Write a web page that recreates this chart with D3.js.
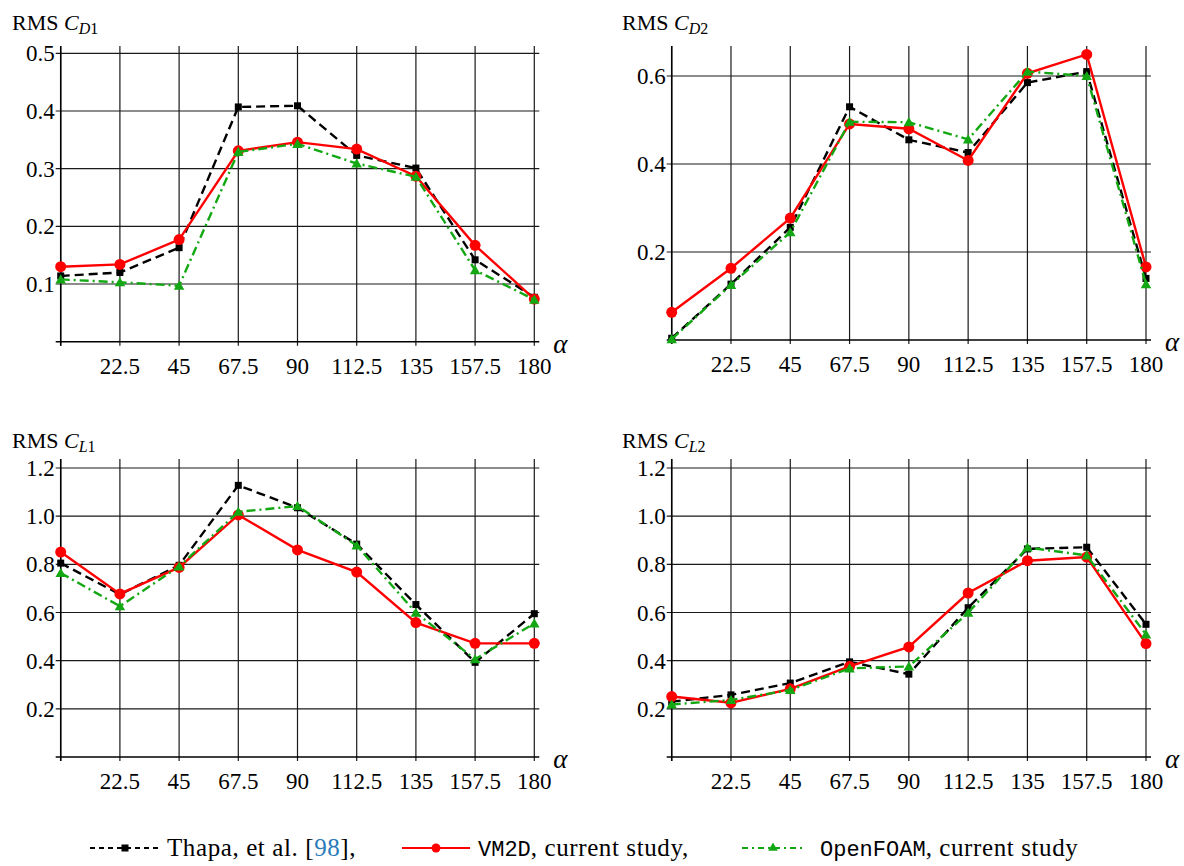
<!DOCTYPE html>
<html>
<head>
<meta charset="utf-8">
<script src="https://cdn.jsdelivr.net/npm/d3@7"></script>
<style>
  body { margin: 0; background: #fff; }
</style>
</head>
<body>
<div id="chart"></div>
<script>
// angle of attack values (shared by all four panels)
var alpha = [0, 22.5, 45, 67.5, 90, 112.5, 135, 157.5, 180];
var xTickLabels = [22.5, 45, 67.5, 90, 112.5, 135, 157.5, 180];

// RMS C_D1
var cd1Thapa = [0.114, 0.120, 0.163, 0.407, 0.409, 0.323, 0.301, 0.142, 0.077];
var cd1Vm2d  = [0.130, 0.134, 0.177, 0.331, 0.346, 0.334, 0.287, 0.167, 0.074];
var cd1Foam  = [0.108, 0.103, 0.097, 0.329, 0.343, 0.309, 0.286, 0.124, 0.073];

// RMS C_D2
var cd2Thapa = [0.004, 0.127, 0.256, 0.530, 0.455, 0.426, 0.585, 0.610, 0.140];
var cd2Vm2d  = [0.063, 0.163, 0.277, 0.491, 0.480, 0.408, 0.606, 0.649, 0.166];
var cd2Foam  = [0.002, 0.125, 0.245, 0.496, 0.495, 0.456, 0.610, 0.600, 0.127];

// RMS C_L1
var cl1Thapa = [0.805, 0.675, 0.796, 1.128, 1.035, 0.884, 0.633, 0.393, 0.595];
var cl1Vm2d  = [0.851, 0.677, 0.787, 1.005, 0.860, 0.768, 0.558, 0.472, 0.472];
var cl1Foam  = [0.764, 0.626, 0.791, 1.018, 1.042, 0.878, 0.599, 0.406, 0.555];

// RMS C_L2
var cl2Thapa = [0.230, 0.258, 0.307, 0.395, 0.344, 0.620, 0.864, 0.871, 0.551];
var cl2Vm2d  = [0.251, 0.225, 0.283, 0.376, 0.457, 0.681, 0.815, 0.830, 0.471];
var cl2Foam  = [0.218, 0.237, 0.278, 0.368, 0.376, 0.599, 0.870, 0.837, 0.509];

var yTicksD1 = [0.1, 0.2, 0.3, 0.4, 0.5];
var yTicksD2 = [0.2, 0.4, 0.6];
var yTicksL  = [0.2, 0.4, 0.6, 0.8, 1.0, 1.2];

var serif = "'Liberation Serif', 'DejaVu Serif', serif";
var mono = "'Liberation Mono', 'DejaVu Sans Mono', monospace";

var svg = d3.select("#chart").append("svg")
  .attr("width", 1184)
  .attr("height", 866)
  .style("font-family", serif);

var red = "#ff0000";
var green = "#13a813";

var panels = [
  { sub: "D1", tx: 12, ty: 30, x0: 60.7, x1: 534.3, yb: 341.7, yt: 53.3, ymax: 0.5, top: 46,
    ticks: yTicksD1, series: [cd1Thapa, cd1Vm2d, cd1Foam] },
  { sub: "D2", tx: 622, ty: 30, x0: 671.7, x1: 1146, yb: 340, yt: 76, ymax: 0.6, top: 46,
    ticks: yTicksD2, series: [cd2Thapa, cd2Vm2d, cd2Foam] },
  { sub: "L1", tx: 12, ty: 448, x0: 60.7, x1: 534.3, yb: 757, yt: 468, ymax: 1.2, top: 459,
    ticks: yTicksL, series: [cl1Thapa, cl1Vm2d, cl1Foam] },
  { sub: "L2", tx: 622, ty: 448, x0: 671.7, x1: 1146, yb: 757, yt: 468, ymax: 1.2, top: 459,
    ticks: yTicksL, series: [cl2Thapa, cl2Vm2d, cl2Foam] }
];

function drawMarker(g, kind, x, y) {
  if (kind === "square") {
    g.append("rect").attr("x", x - 3.5).attr("y", y - 3.5)
      .attr("width", 7).attr("height", 7).attr("fill", "#000");
  } else if (kind === "circle") {
    g.append("circle").attr("cx", x).attr("cy", y).attr("r", 5.5).attr("fill", red);
  } else {
    g.append("path")
      .attr("d", d3.symbol().type(d3.symbolTriangle).size(48)())
      .attr("transform", `translate(${x},${y + 1})`)
      .attr("fill", green);
  }
}

var styles = [
  { color: "#000", dash: "9,5", marker: "square" },
  { color: red, dash: null, marker: "circle" },
  { color: green, dash: "9,4,2,4", marker: "triangle" }
];

panels.forEach(function(p) {
  var x = d3.scaleLinear().domain([0, 180]).range([p.x0, p.x1]);
  var y = d3.scaleLinear().domain([0, p.ymax]).range([p.yb, p.yt]);
  var g = svg.append("g");

  // vertical grid lines
  g.selectAll(".vg").data(alpha).enter().append("line")
    .attr("x1", d => x(d)).attr("x2", d => x(d))
    .attr("y1", p.top).attr("y2", p.yb + 4)
    .attr("stroke", "#1a1a1a").attr("stroke-width", 1.2);

  // horizontal grid lines
  g.selectAll(".hg").data(p.ticks).enter().append("line")
    .attr("x1", p.x0 - 5).attr("x2", p.x1 + 5)
    .attr("y1", d => y(d)).attr("y2", d => y(d))
    .attr("stroke", "#1a1a1a").attr("stroke-width", 1.2);

  // axes
  g.append("line").attr("x1", p.x0 - 5).attr("x2", p.x1 + 5)
    .attr("y1", y(0)).attr("y2", y(0)).attr("stroke", "#000").attr("stroke-width", 1.5);
  g.append("line").attr("x1", p.x0).attr("x2", p.x0)
    .attr("y1", p.top).attr("y2", p.yb + 4).attr("stroke", "#000").attr("stroke-width", 1.5);

  // y tick labels
  g.selectAll(".yl").data(p.ticks).enter().append("text")
    .attr("x", p.x0 - 6).attr("y", d => y(d) + 8)
    .attr("text-anchor", "end").attr("font-size", 23)
    .attr("font-family", serif)
    .text(d => d3.format(".1f")(d));

  // x tick labels
  g.selectAll(".xl").data(xTickLabels).enter().append("text")
    .attr("x", d => x(d)).attr("y", p.yb + 32)
    .attr("text-anchor", "middle").attr("font-size", 23)
    .attr("font-family", serif)
    .text(d => d);

  // alpha label
  g.append("text").attr("x", p.x1 + 19).attr("y", p.yb + 11)
    .attr("font-size", 27).attr("font-style", "italic")
    .attr("font-family", serif).text("\u03b1");

  // title
  var t = g.append("text").attr("x", p.tx).attr("y", p.ty)
    .attr("font-size", 22).attr("font-family", serif);
  t.append("tspan").text("RMS ");
  t.append("tspan").attr("font-style", "italic").text("C");
  t.append("tspan").attr("font-style", "italic").attr("font-size", 16).attr("dy", 4).text(p.sub[0]);
  t.append("tspan").attr("font-size", 16).text(p.sub[1]);

  // data series
  var line = d3.line().x((d, i) => x(alpha[i])).y(d => y(d));
  p.series.forEach(function(vals, k) {
    var s = styles[k];
    g.append("path").datum(vals)
      .attr("d", line)
      .attr("fill", "none")
      .attr("stroke", s.color)
      .attr("stroke-width", 2.4)
      .attr("stroke-dasharray", s.dash);
    vals.forEach(function(v, i) { drawMarker(g, s.marker, x(alpha[i]), y(v)); });
  });
});

// legend
var lg = svg.append("g");
var ly = 848;
lg.append("line").attr("x1", 90).attr("x2", 160).attr("y1", ly).attr("y2", ly)
  .attr("stroke", "#000").attr("stroke-width", 2).attr("stroke-dasharray", "5,4");
drawMarker(lg, "square", 125, ly);
var t1 = lg.append("text").attr("x", 167).attr("y", ly + 8)
  .attr("font-size", 25).attr("letter-spacing", 0.6).attr("font-family", serif);
t1.append("tspan").text("Thapa, et al. [");
t1.append("tspan").attr("fill", "#2b7bba").text("98");
t1.append("tspan").text("],");

lg.append("line").attr("x1", 402).attr("x2", 470).attr("y1", ly).attr("y2", ly)
  .attr("stroke", red).attr("stroke-width", 2);
lg.append("circle").attr("cx", 436).attr("cy", ly).attr("r", 4.5).attr("fill", red);
var t2 = lg.append("text").attr("x", 478).attr("y", ly + 8)
  .attr("font-size", 25).attr("letter-spacing", 0.6).attr("font-family", serif);
t2.append("tspan").attr("font-family", mono).attr("font-size", 22).attr("letter-spacing", 0).text("VM2D");
t2.append("tspan").text(", current study,");

lg.append("line").attr("x1", 742).attr("x2", 804).attr("y1", ly).attr("y2", ly)
  .attr("stroke", green).attr("stroke-width", 2).attr("stroke-dasharray", "6,4,2,4");
lg.append("path").attr("d", d3.symbol().type(d3.symbolTriangle).size(40)())
  .attr("transform", `translate(773,${ly})`).attr("fill", green);
var t3 = lg.append("text").attr("x", 820).attr("y", ly + 8)
  .attr("font-size", 25).attr("letter-spacing", 0.6).attr("font-family", serif);
t3.append("tspan").attr("font-family", mono).attr("font-size", 22).attr("letter-spacing", 0).text("OpenFOAM");
t3.append("tspan").text(", current study");
</script>
</body>
</html>
